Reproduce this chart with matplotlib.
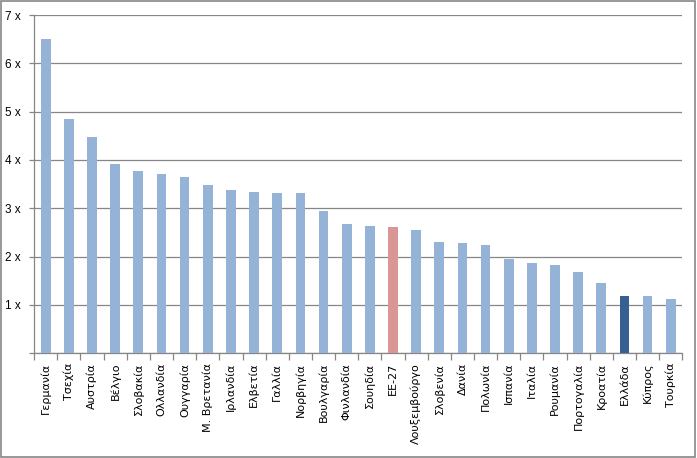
import matplotlib
matplotlib.use("Agg")
import matplotlib.pyplot as plt
from matplotlib.patches import Rectangle
import numpy as np

countries = ["Γερμανία", "Τσεχία", "Αυστρία", "Βέλγιο", "Σλοβακία", "Ολλανδία",
             "Ουγγαρία", "Μ. Βρετανία", "Ιρλανδία", "Ελβετία", "Γαλλία", "Νορβηγία",
             "Βουλγαρία", "Φινλανδία", "Σουηδία", "ΕΕ-27", "Λουξεμβούργο", "Σλοβενία",
             "Δανία", "Πολωνία", "Ισπανία", "Ιταλία", "Ρουμανία", "Πορτογαλία",
             "Κροατία", "Ελλάδα", "Κύπρος", "Τουρκία"]
values = [6.50, 4.84, 4.47, 3.91, 3.77, 3.71, 3.64, 3.48, 3.37, 3.33, 3.31, 3.31,
          2.94, 2.67, 2.63, 2.61, 2.55, 2.30, 2.28, 2.24, 1.95, 1.87, 1.82, 1.68,
          1.45, 1.18, 1.18, 1.12]
yticks = [0, 1, 2, 3, 4, 5, 6, 7]
ytick_labels = ["", "1 x", "2 x", "3 x", "4 x", "5 x", "6 x", "7 x"]

plt.rcParams['font.family'] = ['DejaVu Sans']

base = "#95B3D7"
colors = [base] * len(countries)
colors[countries.index("ΕΕ-27")] = "#D99694"
colors[countries.index("Ελλάδα")] = "#366092"

fig = plt.figure(figsize=(6.97, 4.58), dpi=100)
ax = fig.add_axes([0.049, 0.229, 0.930, 0.738])

x = np.arange(len(countries))
ax.bar(x, values, width=0.42, color=colors, zorder=3)

ax.set_xlim(-0.5, len(countries) - 0.5)
ax.set_ylim(0, 7)
ax.set_yticks(yticks)
ax.set_yticklabels(ytick_labels, fontsize=8.5, family=['Liberation Sans', 'DejaVu Sans'])
ax.yaxis.grid(True, color="#868686", linewidth=0.9, zorder=0)

ax.set_xticks(x)
ax.set_xticklabels(countries, rotation=90, fontsize=8)
ax.set_xticks(np.arange(-0.5, len(countries), 1.0), minor=True)
ax.tick_params(axis='x', which='major', length=0, pad=7)
ax.tick_params(axis='x', which='minor', length=5, color="#868686", width=0.9)
ax.tick_params(axis='y', length=3.5, color="#868686", width=0.9, pad=6)

for s in ["top", "right"]:
    ax.spines[s].set_visible(False)
for s in ["left", "bottom"]:
    ax.spines[s].set_color("#868686")
    ax.spines[s].set_linewidth(0.9)

fig.patches.append(Rectangle((0.002, 0.003), 0.995, 0.994, transform=fig.transFigure,
                             fill=False, edgecolor="#868686", linewidth=1.2))

fig.savefig("out.png", dpi=100)
